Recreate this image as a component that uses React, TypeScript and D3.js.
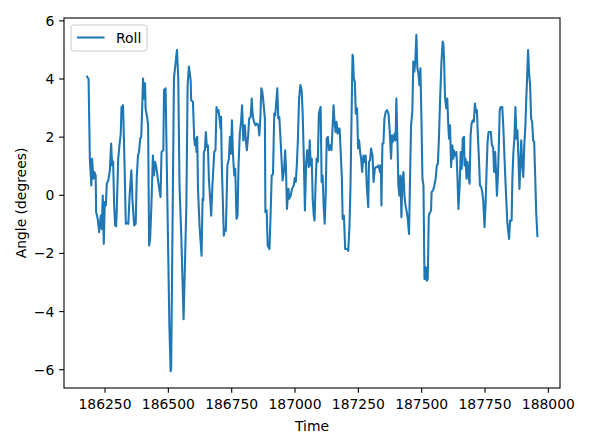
import React from "react";
import * as d3 from "d3";

const TIME: number[] = [
  186177,186185,186190,186196,186199,186204,186208,186213,186215,186221,
  186227,186233,186237,186241,186245,186249,186253,186257,186263,186269,
  186274,186278,186282,186286,186290,186294,186298,186302,186307,186312,
  186315,186317,186321,186324,186328,186332,186338,186342,186347,186354,
  186358,186365,186371,186375,186380,186384,186389,186393,186397,186400,
  186404,186408,186410,186417,186420,186424,186428,186433,186439,186443,
  186447,186451,186455,186460,186469,186473,186480,186483,186489,186493,
  186504,186509,186511,186522,186534,186539,186544,186551,186560,186565,
  186571,186576,186581,186588,186590,186597,186602,186605,186609,186611,
  186614,186617,186623,186631,186635,186638,186640,186644,186648,186652,
  186656,186660,186669,186674,186681,186686,186690,186694,186698,186702,
  186706,186708,186711,186719,186723,186727,186733,186739,186743,186747,
  186751,186755,186760,186764,186769,186773,186777,186782,186787,186791,
  186796,186802,186806,186810,186815,186819,186825,186829,186833,186838,
  186844,186850,186855,186859,186863,186867,186871,186875,186881,186883,
  186888,186892,186899,186903,186908,186913,186918,186922,186926,186930,
  186934,186938,186942,186946,186951,186957,186961,186964,186968,186974,
  186977,186983,186988,186995,186999,187003,187007,187011,187016,187021,
  187026,187030,187035,187039,187044,187048,187054,187058,187062,187066,
  187070,187074,187077,187081,187085,187090,187094,187101,187105,187109,
  187113,187117,187121,187125,187130,187134,187139,187144,187148,187152,
  187156,187160,187164,187168,187172,187176,187180,187185,187188,187193,
  187198,187206,187210,187215,187219,187223,187227,187229,187232,187236,
  187240,187245,187249,187253,187257,187261,187265,187270,187274,187279,
  187283,187289,187292,187296,187300,187306,187310,187315,187319,187324,
  187330,187335,187339,187341,187345,187349,187353,187358,187363,187369,
  187374,187379,187383,187387,187393,187397,187400,187404,187408,187412,
  187416,187420,187424,187428,187432,187436,187440,187445,187450,187454,
  187458,187463,187467,187471,187475,187479,187483,187487,187491,187495,
  187499,187503,187507,187511,187516,187520,187524,187528,187533,187537,
  187539,187545,187550,187555,187560,187564,187568,187572,187578,187583,
  187586,187589,187592,187597,187601,187605,187608,187612,187616,187621,
  187625,187627,187631,187637,187641,187645,187650,187654,187658,187662,
  187667,187669,187673,187677,187681,187685,187689,187693,187697,187702,
  187706,187710,187714,187718,187722,187726,187730,187735,187739,187743,
  187748,187752,187756,187760,187764,187768,187773,187777,187782,187786,
  187790,187794,187797,187801,187805,187808,187812,187818,187822,187827,
  187832,187838,187842,187845,187849,187855,187858,187862,187866,187870,
  187874,187878,187882,187886,187890,187893,187897,187901,187905,187909,
  187912,187916,187920,187924,187928,187932,187936,187940,187944,187948,
  187952,187957,
];

const ROLL: number[] = [
  4.11, 4.00, 1.26, 0.34, 1.26, 0.57, 0.80, 0.68, -0.58, -0.81,
  -1.27, -0.70, -1.16, -0.01, -1.67, -0.23, -0.35, 0.40, 0.51, 0.86,
  1.78, 1.03, 1.15, -0.35, -1.04, -1.06, -0.01, 1.26, 1.72, 2.12,
  3.04, 2.99, 3.10, 2.12, 0.68, -0.98, -0.95, -0.98, -0.01, 0.86,
  -0.12, -1.04, -0.98, 0.57, 1.37, 1.49, 1.95, 2.01, 3.10, 4.02,
  3.33, 3.85, 2.99, 2.64, 2.41, -1.73, -1.50, -0.35, 1.37, 0.68,
  1.15, 1.03, 0.80, 0.46, -0.06, 1.49, 1.55, 3.62, 3.68, 1.49,
  -4.50, -6.05, -5.99, 4.02, 5.00, 4.02, 0.34, -1.39, -4.26, -2.54,
  -0.35, 3.79, 4.43, 3.96, 3.27, 3.22, 1.95, 1.72, 1.95, 1.49,
  2.01, 0.22, -1.04, -2.08, -0.12, -0.18, 1.49, 1.55, 2.18, 1.66,
  1.72, 0.57, -0.70, 0.34, 1.49, 1.55, 3.04, 2.87, 2.93, 2.64,
  2.30, 2.70, 1.03, -1.39, -1.16, -1.22, 1.03, 1.26, 2.01, 1.43,
  2.58, 1.43, 0.68, 0.91, -0.81, -0.70, 1.03, 2.12, 2.53, 3.10,
  1.89, 2.41, 1.84, 1.55, 2.06, 2.64, 2.70, 3.33, 2.75, 2.53,
  2.41, 2.47, 2.41, 2.06, 2.64, 3.68, 3.56, 3.22, 2.64, -0.58,
  -0.52, -1.73, -1.85, -0.81, 0.68, 0.74, 2.81, 2.75, 3.22, 3.68,
  2.64, 2.70, 2.06, 1.37, 0.51, 0.91, 1.55, 1.03, -0.47, 0.22,
  -0.12, -0.01, 0.22, 0.34, 0.59, 0.46, 1.03, 1.84, 3.33, 3.79,
  3.62, 2.87, 1.15, -0.52, 1.15, 1.55, 0.97, 1.89, 1.03, 1.26,
  -0.18, -0.70, -0.87, 0.34, 1.26, 1.15, 2.81, 3.04, 0.46, 0.68,
  -0.35, -0.98, -0.01, 1.95, 2.01, 1.55, 1.72, 1.55, 2.30, 3.10,
  2.53, 2.18, 2.53, 2.12, 2.30, 2.30, 1.55, 0.57, -0.81, -0.70,
  -1.85, -1.85, -1.91, -1.04, 0.34, 2.64, 4.83, 4.77, 4.02, 3.91,
  2.81, 2.99, 1.61, 1.89, 1.49, 1.26, 0.80, 1.37, 1.15, 1.37,
  0.34, -0.41, 1.15, 1.20, 1.61, 1.37, 0.46, 0.91, 0.97, 0.97,
  1.03, 0.80, 1.03, -0.35, 1.78, 1.78, 2.64, 2.87, 2.93, 2.81,
  2.18, 1.26, 2.06, 1.84, 2.12, 1.89, 3.33, 1.95, 0.34, -0.01,
  0.68, -0.75, 0.57, 0.80, -0.01, -0.35, -0.52, -0.81, -1.33, 0.57,
  2.41, 2.87, 4.60, 4.25, 4.65, 5.52, 4.37, 4.19, 3.79, 4.37,
  2.64, 0.57, 0.34, -2.88, -2.48, -2.94, -2.88, -0.70, -0.58, -0.52,
  0.11, 0.17, 0.34, 0.57, 1.03, 1.09, 1.95, 3.10, 4.60, 5.29,
  5.17, 4.48, 3.39, 2.99, 3.33, 2.41, 1.95, 2.41, 0.97, 1.72,
  1.26, 1.55, 1.37, 1.49, 0.68, -0.47, 0.34, 1.49, 0.91, 1.95,
  2.01, 1.03, 1.26, 0.57, 1.15, 0.68, 0.40, 2.06, 2.47, 2.58,
  2.53, 3.16, 2.87, 2.93, 2.01, 1.26, 0.34, 0.28, 0.11, -0.18,
  -1.10, -0.35, 0.80, 1.84, 2.18, 2.18, 2.18, 1.72, 1.66, 0.80,
  1.49, 0.68, -0.01, 0.68, 1.84, 2.93, 3.04, 3.04, 2.41, 1.26,
  0.22, -0.93, -1.27, -1.50, -0.87, -0.87, 0.57, 1.49, 1.95, 3.04,
  1.95, 2.24, 1.26, 0.22, 1.26, 1.89, 1.03, 0.63, 1.72, 2.30,
  3.10, 4.02, 5.00, 4.19, 3.79, 2.64, 2.53, 1.89, 1.84, 0.68,
  -0.58, -1.44,
];

const X_TICKS = [186250, 186500, 186750, 187000, 187250, 187500, 187750, 188000];
const Y_TICKS = [-6, -4, -2, 0, 2, 4, 6];
const SERIES_NAME = "Roll";
const X_LABEL = "Time";
const Y_LABEL = "Angle (degrees)";

const W = 607;
const H = 437;
const L = 64;
const R = 560;
const T = 18;
const B = 388;
const FONT = "DejaVu Sans, sans-serif";
const FS = 13.9;
const COLOR = "#1f77b4";

function pad([a, b]: [number, number]): [number, number] {
  const m = (b - a) * 0.05;
  return [a - m, b + m];
}

export default function App() {
  const xExt = d3.extent(TIME) as [number, number];
  const yExt = d3.extent(ROLL) as [number, number];
  const x = d3.scaleLinear().domain(pad(xExt)).range([L, R]);
  const y = d3.scaleLinear().domain(pad(yExt)).range([B, T]);
  const pts: [number, number][] = TIME.map((t, i) => [t, ROLL[i]]);
  const line = d3
    .line<[number, number]>()
    .x((d) => x(d[0]))
    .y((d) => y(d[1]));
  const fmtY = (v: number) => (v < 0 ? "\u2212" + Math.abs(v) : String(v));
  const tick = 4.86;
  return (
    <svg
      width={W}
      height={H}
      style={{ position: "absolute", left: 0, top: 0, background: "#fff" }}
      fontFamily={FONT}
    >
      <rect x={0} y={0} width={W} height={H} fill="#fff" />
      <defs>
        <clipPath id="plotclip">
          <rect x={L} y={T} width={R - L} height={B - T} />
        </clipPath>
      </defs>
      <path
        d={line(pts) || ""}
        fill="none"
        stroke={COLOR}
        strokeWidth={2.08}
        strokeLinejoin="round"
        clipPath="url(#plotclip)"
      />
      <rect x={L} y={T} width={R - L} height={B - T} fill="none" stroke="#000" strokeWidth={1.1} />
      {X_TICKS.map((v) => (
        <g key={"x" + v}>
          <line x1={x(v)} x2={x(v)} y1={B} y2={B + tick} stroke="#000" strokeWidth={1.1} />
          <text x={x(v)} y={B + 2 * tick + 10.8} textAnchor="middle" fontSize={FS} fill="#000">
            {String(v)}
          </text>
        </g>
      ))}
      {Y_TICKS.map((v) => (
        <g key={"y" + v}>
          <line x1={L - tick} x2={L} y1={y(v)} y2={y(v)} stroke="#000" strokeWidth={1.1} />
          <text x={L - 2 * tick} y={y(v) + 5} textAnchor="end" fontSize={FS} fill="#000">
            {fmtY(v)}
          </text>
        </g>
      ))}
      <text x={(L + R) / 2} y={431} textAnchor="middle" fontSize={FS} fill="#000">
        {X_LABEL}
      </text>
      <text
        transform={`translate(26,${(T + B) / 2}) rotate(-90)`}
        textAnchor="middle"
        fontSize={FS}
        fill="#000"
      >
        {Y_LABEL}
      </text>
      <g>
        <rect x={71} y={25} width={76} height={26} rx={2.8} fill="#fff" fillOpacity={0.8} stroke="#cccccc" strokeWidth={1} />
        <line x1={77} x2={104.5} y1={37.5} y2={37.5} stroke={COLOR} strokeWidth={2.08} />
        <text x={116} y={42.5} fontSize={FS} fill="#000">
          {SERIES_NAME}
        </text>
      </g>
    </svg>
  );
}
